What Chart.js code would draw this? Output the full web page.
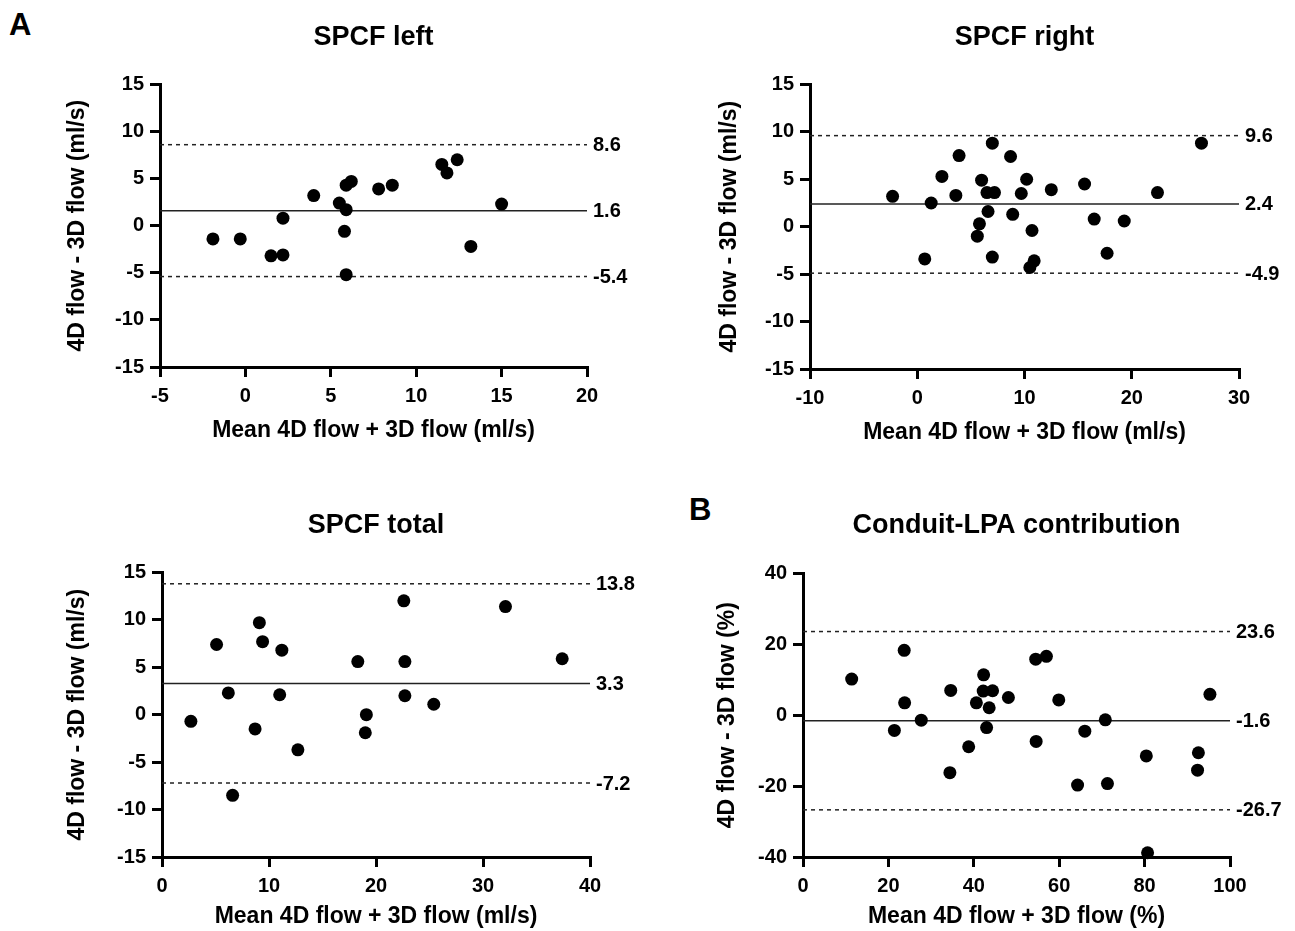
<!DOCTYPE html>
<html>
<head>
<meta charset="utf-8">
<script src="https://cdn.jsdelivr.net/npm/chart.js@4"></script>
<style>
body { margin: 0; background: #fff; }
#wrap { position: relative; width: 1295px; height: 931px; font-family: "Liberation Sans", Arial, sans-serif; }
.panel { position: absolute; }
.tag { position: absolute; font-weight: bold; font-size: 31px; color: #000; }
</style>
</head>
<body>
<div id="wrap">
  <div class="tag" style="left:9px;top:7px">A</div>
  <div class="tag" style="left:689px;top:492px">B</div>
  <div class="panel" style="left:0;top:0;width:650px;height:460px"><canvas id="c1"></canvas></div>
  <div class="panel" style="left:650px;top:0;width:645px;height:460px"><canvas id="c2"></canvas></div>
  <div class="panel" style="left:0;top:480px;width:650px;height:451px"><canvas id="c3"></canvas></div>
  <div class="panel" style="left:650px;top:480px;width:645px;height:451px"><canvas id="c4"></canvas></div>
</div>
<script>
//SPCF left
var leftMean = [-1.9, -0.3, 1.5, 2.2, 2.2, 4.0, 5.5, 5.9, 5.8, 5.9, 5.9, 6.2, 7.8, 8.6, 11.5, 11.8, 12.4, 13.2, 15.0]
var leftDiff = [-1.4, -1.4, -3.2, -3.1, 0.8, 3.2, 2.4, 1.7, -0.6, -5.2, 4.3, 4.7, 3.9, 4.3, 6.5, 5.6, 7.0, -2.2, 2.3]
var leftLines = [8.6, 1.6, -5.4]
var leftXRange = [-5, 20]
var leftYRange = [-15, 15]

//SPCF right
var rightMean = [-2.3, 0.7, 1.3, 2.3, 3.6, 3.9, 5.6, 5.8, 6.0, 6.5, 6.6, 7.0, 7.2, 7.0, 8.7, 8.9, 9.7, 10.2, 10.7, 10.5, 10.9, 12.5, 15.6, 16.5, 17.7, 19.3, 22.4, 26.5]
var rightDiff = [3.2, -3.4, 2.5, 5.3, 3.3, 7.5, -1.0, 0.3, 4.9, 3.6, 1.6, 8.8, 3.6, -3.2, 7.4, 1.3, 3.5, 5.0, -0.4, -4.3, -3.6, 3.9, 4.5, 0.8, -2.8, 0.6, 3.6, 8.8]
var rightLines = [9.6, 2.4, -4.9]
var rightXRange = [-10, 30]
var rightYRange = [-15, 15]

//SPCF total
var totalMean = [2.7, 5.1, 6.2, 6.6, 8.7, 9.1, 9.4, 11.2, 11.0, 12.7, 18.3, 19.1, 19.0, 22.6, 22.7, 22.7, 25.4, 32.1, 37.4]
var totalDiff = [-0.7, 7.4, 2.3, -8.5, -1.5, 9.7, 7.7, 6.8, 2.1, -3.7, 5.6, 0.0, -1.9, 12.0, 5.6, 2.0, 1.1, 11.4, 5.9]
var totalLines = [13.8, 3.3, -7.2]
var totalXRange = [0, 40]
var totalYRange = [-15, 15]

//Conduit-LPA contribution
var lpaMean = [11.4, 23.7, 23.8, 21.4, 27.7, 34.6, 34.4, 38.8, 40.6, 42.3, 42.2, 44.4, 43.6, 43.0, 48.1, 54.5, 57.0, 54.6, 59.9, 66.0, 64.3, 70.8, 71.3, 80.4, 80.7, 92.6, 92.4, 95.3]
var lpaDiff = [10.2, 18.3, 3.5, -4.3, -1.4, 7.0, -16.2, -8.9, 3.5, 11.4, 6.8, 6.9, 2.1, -3.5, 5.0, 15.8, 16.6, -7.4, 4.3, -4.5, -19.7, -1.3, -19.3, -11.5, -38.8, -10.6, -15.5, 5.9]
var lpaLines = [23.6, -1.6, -26.7]
var lpaXRange = [0, 100]
var lpaYRange = [-40, 40]

var fontFamily = '"Liberation Sans", Arial, sans-serif'

//Plugin für die Beschriftung der Linien rechts
var lineLabels = {
    id: 'lineLabels',
    afterDatasetsDraw: function(chart, args, opts) {
        var ctx = chart.ctx
        var yScale = chart.scales.y
        ctx.save()
        ctx.font = 'bold 20px ' + fontFamily
        ctx.fillStyle = '#000'
        ctx.textBaseline = 'middle'
        ctx.textAlign = 'left'
        opts.values.forEach(function(v) {
            ctx.fillText(v.toFixed(1), chart.chartArea.right + 6, yScale.getPixelForValue(v) + 1)
        })
        ctx.restore()
    }
}

function axisStyle(range, step) {
    return {
        type: 'linear',
        min: range[0],
        max: range[1],
        ticks: {
            stepSize: step,
            color: '#000',
            font: { size: 20, weight: 'bold', family: fontFamily },
            padding: 6
        },
        grid: {
            display: true,
            drawOnChartArea: false,
            drawTicks: true,
            tickLength: 10,
            color: '#000',
            lineWidth: 3
        },
        border: { display: true, color: '#000', width: 3 }
    }
}

//Ein Bland-Altman Diagramm
function makePanel(id, title, means, diffs, lines, xRange, yRange, xStep, yStep, xTitle, yTitle, box) {
    var canvas = document.getElementById(id)
    var W = canvas.parentNode.clientWidth
    var H = canvas.parentNode.clientHeight

    var points = means.map(function(m, i) { return { x: m, y: diffs[i] } })

    var datasets = [{
        type: 'scatter',
        data: points,
        pointRadius: 6.5,
        pointBackgroundColor: '#000',
        pointBorderWidth: 0,
        clip: false,
        order: 0
    }]
    lines.forEach(function(v, i) {
        datasets.push({
            type: 'line',
            data: [{ x: xRange[0], y: v }, { x: xRange[1], y: v }],
            borderColor: '#222',
            borderWidth: 1.5,
            borderDash: i == 1 ? [] : [4, 4],
            pointRadius: 0,
            fill: false,
            order: 1
        })
    })

    var xAxis = axisStyle(xRange, xStep)
    xAxis.ticks.padding = 7
    xAxis.title = {
        display: true,
        text: xTitle,
        color: '#000',
        font: { size: 23, weight: 'bold', family: fontFamily },
        padding: { top: 0, bottom: H - box.xTitleY - 14 }
    }
    xAxis.afterFit = function(s) { s.height = H - box.b }

    var yAxis = axisStyle(yRange, yStep)
    yAxis.title = {
        display: true,
        text: yTitle,
        color: '#000',
        font: { size: 23, weight: 'bold', family: fontFamily },
        padding: { top: box.yTitleX - (box.l - 100) - 14, bottom: 0 }
    }
    yAxis.afterFit = function(s) { s.width = 100 }

    var config = {
        type: 'scatter',
        data: { datasets: datasets },
        plugins: [lineLabels],
        options: {
            responsive: true,
            maintainAspectRatio: false,
            animation: false,
            layout: { padding: { left: box.l - 100, right: W - box.r, top: 0, bottom: 0 } },
            scales: { x: xAxis, y: yAxis },
            plugins: {
                legend: { display: false },
                tooltip: { enabled: false },
                title: {
                    display: true,
                    text: title,
                    fullSize: false,
                    color: '#000',
                    font: { size: 27, weight: 'bold', family: fontFamily },
                    padding: { top: box.titleY - 16, bottom: box.t - box.titleY - 16 }
                },
                lineLabels: { values: lines }
            }
        }
    }
    new Chart(canvas, config)
}

makePanel('c1', 'SPCF left', leftMean, leftDiff, leftLines, leftXRange, leftYRange, 5, 5,
    'Mean 4D flow + 3D flow (ml/s)', '4D flow - 3D flow (ml/s)',
    { l: 160, r: 587, t: 84, b: 367, titleY: 37, xTitleY: 430, yTitleX: 78 })
makePanel('c2', 'SPCF right', rightMean, rightDiff, rightLines, rightXRange, rightYRange, 10, 5,
    'Mean 4D flow + 3D flow (ml/s)', '4D flow - 3D flow (ml/s)',
    { l: 160, r: 589, t: 84, b: 369, titleY: 37, xTitleY: 432, yTitleX: 80 })
makePanel('c3', 'SPCF total', totalMean, totalDiff, totalLines, totalXRange, totalYRange, 10, 5,
    'Mean 4D flow + 3D flow (ml/s)', '4D flow - 3D flow (ml/s)',
    { l: 162, r: 590, t: 92, b: 377, titleY: 45, xTitleY: 436, yTitleX: 78 })
makePanel('c4', 'Conduit-LPA contribution', lpaMean, lpaDiff, lpaLines, lpaXRange, lpaYRange, 20, 20,
    'Mean 4D flow + 3D flow (%)', '4D flow - 3D flow (%)',
    { l: 153, r: 580, t: 93, b: 377, titleY: 45, xTitleY: 436, yTitleX: 78 })
</script>
</body>
</html>
